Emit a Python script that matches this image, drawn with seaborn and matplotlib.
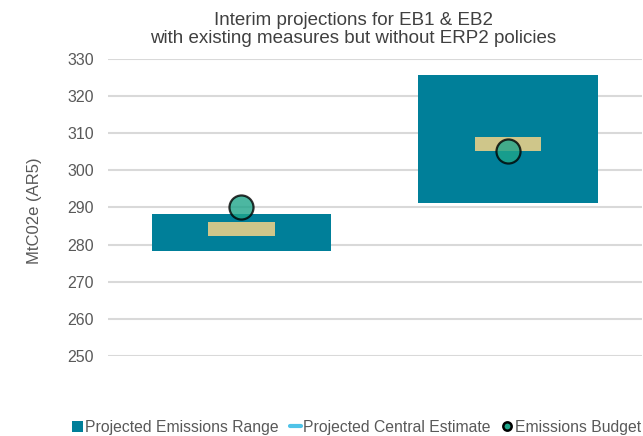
import numpy as np
import matplotlib.pyplot as plt
import seaborn as sns
import pandas as pd
from matplotlib.lines import Line2D
from matplotlib.patches import Patch

# datos
periodos = ['EB1', 'EB2']
rango_min = [278.3, 291.1]
rango_max = [288.3, 325.6]
central_min = [282.2, 305.2]
central_max = [286.2, 309.1]
presupuesto = [290.2, 305.2]
yticks = [250, 260, 270, 280, 290, 300, 310, 320, 330]

sns.set_style('white')
plt.rcParams['font.family'] = ['Liberation Sans', 'DejaVu Sans']

fig = plt.figure(figsize=(6.43, 4.36), dpi=100)
ax = fig.add_axes([0.168, 0.1835, 0.8297, 0.6812])

x = np.arange(len(periodos))
altura = np.array(rango_max) - np.array(rango_min)
ax.bar(x, altura, bottom=rango_min, width=0.674, color='#007F99',
       edgecolor='none', linewidth=0, zorder=2)

alto_c = np.array(central_max) - np.array(central_min)
ax.bar(x, alto_c, bottom=central_min, width=0.25, color='#CFC68A',
       edgecolor='none', linewidth=0, zorder=3)

df = pd.DataFrame({'x': x, 'budget': presupuesto})
sns.scatterplot(data=df, x='x', y='budget', ax=ax, s=300, color='#1FA58A',
                alpha=0.8, edgecolor='black', linewidth=1.6, zorder=4, legend=False)

ax.set_xlim(-0.5, 1.5)
ax.set_ylim(250, 330)
ax.set_yticks(yticks)
ax.set_xticks([])
ax.set_xlabel('')
ax.grid(axis='y', color='#D9D9D9', linewidth=1.5, zorder=0)
ax.set_axisbelow(True)
for s in ax.spines.values():
    s.set_visible(False)
ax.tick_params(axis='y', length=0, pad=10, labelsize=11.5, labelcolor='#595959')

ax.set_ylabel('MtC02e (AR5)', fontsize=12, color='#595959')
ax.yaxis.set_label_coords(-0.123, 0.49)

fig.text(0.549, 1 - 29.5 / 436,
         'Interim projections for EB1 & EB2\nwith existing measures but without ERP2 policies',
         ha='center', va='center', fontsize=13.5, color='#404040', linespacing=1.1)

handles = [
    Patch(facecolor='#007F99', edgecolor='none'),
    Line2D([0], [0], color='#4FC3E8', linewidth=3),
    Line2D([0], [0], marker='o', linestyle='none', markersize=6,
           markerfacecolor='#1FA58A', markeredgecolor='black', markeredgewidth=1.8),
]
labels = ['Projected Emissions Range', 'Projected Central Estimate', 'Emissions Budget']
fig.legend(handles, labels, loc='center left', bbox_to_anchor=(0.112, 1 - 427 / 436),
           ncol=3, frameon=False, fontsize=11.3, handlelength=0.7, handleheight=0.7,
           handletextpad=0.15, columnspacing=0.7, labelcolor='#595959',
           borderpad=0, borderaxespad=0)

fig.savefig('out.png', dpi=100)
